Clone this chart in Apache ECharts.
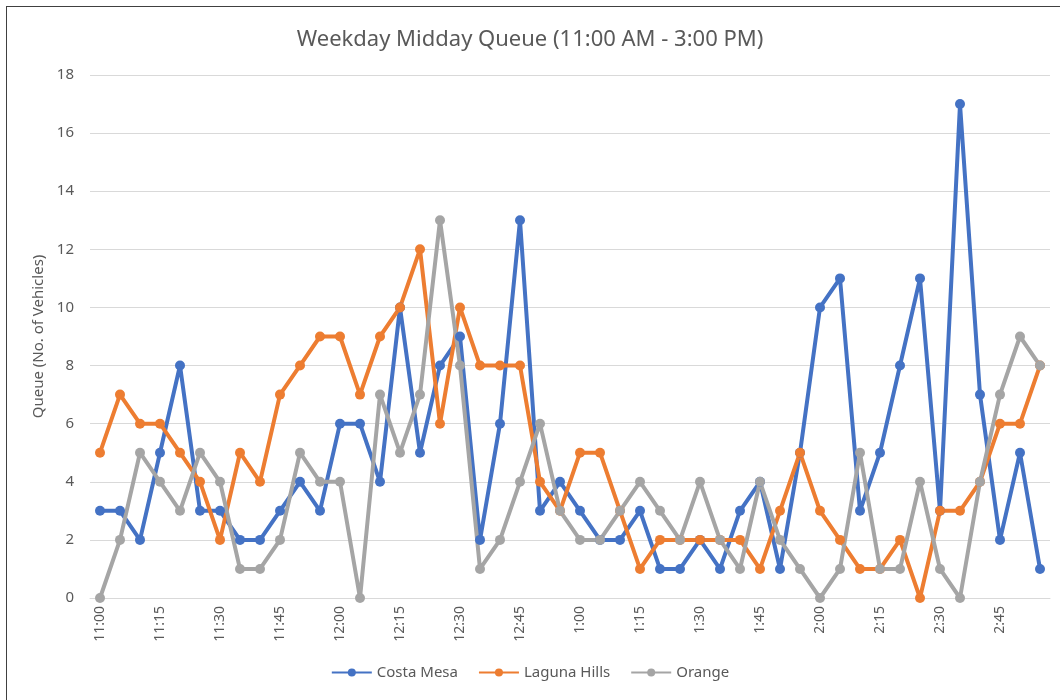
<!DOCTYPE html>
<html>
<head>
<meta charset="utf-8">
<title>Weekday Midday Queue</title>
<script src="https://cdn.jsdelivr.net/npm/echarts@6/dist/echarts.min.js"></script>
<style>
  html, body { margin: 0; padding: 0; background: #fff; }
  #main { width: 1060px; height: 700px; position: relative; }
  .frame {
    position: absolute; left: 6px; top: 6px; width: 1100px; height: 760px;
    border: 1px solid #404040; pointer-events: none;
  }
</style>
</head>
<body>
<div id="main"></div>
<div class="frame"></div>
<script>
// time of day, 5 minute steps from 11:00 to 2:55
const times = [
  '11:00', '11:05', '11:10', '11:15', '11:20', '11:25', '11:30', '11:35', '11:40', '11:45', '11:50', '11:55',
  '12:00', '12:05', '12:10', '12:15', '12:20', '12:25', '12:30', '12:35', '12:40', '12:45', '12:50', '12:55',
  '1:00', '1:05', '1:10', '1:15', '1:20', '1:25', '1:30', '1:35', '1:40', '1:45', '1:50', '1:55',
  '2:00', '2:05', '2:10', '2:15', '2:20', '2:25', '2:30', '2:35', '2:40', '2:45', '2:50', '2:55'
]

const costaMesa = [
  3, 3, 2, 5, 8, 3, 3, 2, 2, 3, 4, 3,
  6, 6, 4, 10, 5, 8, 9, 2, 6, 13, 3, 4,
  3, 2, 2, 3, 1, 1, 2, 1, 3, 4, 1, 5,
  10, 11, 3, 5, 8, 11, 3, 17, 7, 2, 5, 1
]
const lagunaHills = [
  5, 7, 6, 6, 5, 4, 2, 5, 4, 7, 8, 9,
  9, 7, 9, 10, 12, 6, 10, 8, 8, 8, 4, 3,
  5, 5, 3, 1, 2, 2, 2, 2, 2, 1, 3, 5,
  3, 2, 1, 1, 2, 0, 3, 3, 4, 6, 6, 8
]
const orange = [
  0, 2, 5, 4, 3, 5, 4, 1, 1, 2, 5, 4,
  4, 0, 7, 5, 7, 13, 8, 1, 2, 4, 6, 3,
  2, 2, 3, 4, 3, 2, 4, 2, 1, 4, 2, 1,
  0, 1, 5, 1, 1, 4, 1, 0, 4, 7, 9, 8
]

const yTicks = { min: 0, max: 18, interval: 2 }

const font = "'Liberation Sans Narrow', 'Noto Sans', sans-serif"
const textColor = '#595959'

function makeSeries (name, data, color) {
  return {
    name: name,
    type: 'line',
    data: data,
    symbol: 'circle',
    symbolSize: 10,
    lineStyle: { width: 4, color: color },
    itemStyle: { color: color },
    emphasis: { disabled: true }
  }
}

const chart = echarts.init(document.getElementById('main'))
const option = {
  animation: false,
  textStyle: { fontFamily: font },
  title: {
    text: 'Weekday Midday Queue (11:00 AM - 3:00 PM)',
    left: 'center',
    top: 24,
    textStyle: { fontFamily: font, fontSize: 22, fontWeight: 'normal', color: textColor }
  },
  grid: { left: 90, right: 10, top: 75, bottom: 102 },
  legend: {
    bottom: 15,
    left: 'center',
    itemWidth: 40,
    itemHeight: 10,
    itemGap: 20,
    textStyle: { fontFamily: font, fontSize: 15, color: textColor },
    data: ['Costa Mesa', 'Laguna Hills', 'Orange']
  },
  xAxis: {
    type: 'category',
    data: times,
    boundaryGap: true,
    axisLine: { lineStyle: { color: '#d9d9d9', width: 1 } },
    axisTick: { show: false },
    axisLabel: {
      interval: 2,
      rotate: 90,
      margin: 8,
      fontSize: 14,
      color: textColor,
      fontFamily: font
    }
  },
  yAxis: {
    type: 'value',
    min: yTicks.min,
    max: yTicks.max,
    interval: yTicks.interval,
    name: 'Queue (No. of Vehicles)',
    nameLocation: 'middle',
    nameGap: 42,
    nameTextStyle: { fontFamily: font, fontSize: 15, color: textColor },
    axisLine: { show: false },
    axisTick: { show: false },
    axisLabel: { fontSize: 15, color: textColor, margin: 16, fontFamily: font },
    splitLine: { lineStyle: { color: '#d9d9d9', width: 1 } }
  },
  series: [
    makeSeries('Costa Mesa', costaMesa, '#4472c4'),
    makeSeries('Laguna Hills', lagunaHills, '#ed7d31'),
    makeSeries('Orange', orange, '#a5a5a5')
  ]
}
chart.setOption(option)
</script>
</body>
</html>
